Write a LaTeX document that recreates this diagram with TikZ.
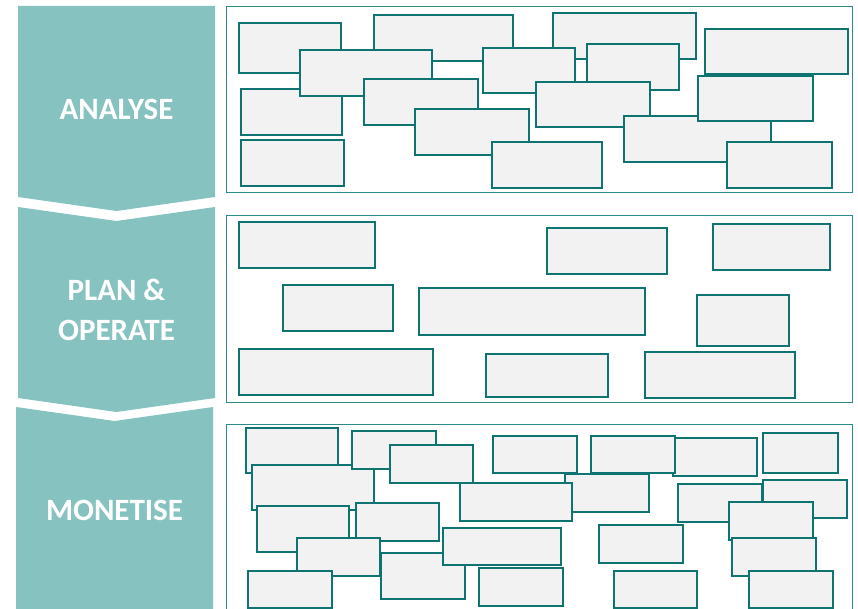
\documentclass[tikz,border=0pt]{standalone}
\usepackage{fontspec}
\setmainfont{Carlito}
\definecolor{chev}{HTML}{86C3C0}
\definecolor{boxline}{HTML}{0E7371}
\definecolor{panelline}{HTML}{2A8C89}
\definecolor{boxfill}{HTML}{F2F2F2}
\tikzset{
  bx/.style={draw=boxline, fill=boxfill, line width=2.2pt, inner sep=0pt, outer sep=0pt},
  panelbox/.style={draw=panelline, line width=1pt, inner sep=0pt, outer sep=0pt},
  chevlabel/.style={text=white, font=\bfseries\fontsize{31}{40}\selectfont, align=center, inner sep=0pt}
}
\newcommand\boxat[5]{\node[bx, minimum width={#4-#2}, minimum height={#5-#3}] (#1) at ({(#2+#4)/2},{(#3+#5)/2}) {};}
\newcommand\panelat[5]{\node[panelbox, minimum width={#4-#2}, minimum height={#5-#3}] (#1) at ({(#2+#4)/2},{(#3+#5)/2}) {};}
\begin{document}
\begin{tikzpicture}[x=1pt,y=-1pt]
\useasboundingbox (0,0) rectangle (858,609);
% chevrons
\fill[chev] (18,6) -- (215,6) -- (215,197) -- (116.5,211) -- (18,197) -- cycle;
\fill[chev] (18,207) -- (116.5,221) -- (215,207) -- (215,398) -- (116.5,412) -- (18,398) -- cycle;
\fill[chev] (16,407) -- (114.5,421) -- (213,407) -- (213,612) -- (16,612) -- cycle;
\node[chevlabel] (t1) at (116.5,109) {ANALYSE};
\node[chevlabel] (t2) at (116.5,310) {PLAN \&\\OPERATE};
\node[chevlabel] (t3) at (114.5,510) {MONETISE};
% panels
\panelat{p1}{226.5}{6.5}{852.5}{192.5}
\panelat{p2}{226.5}{215.5}{852.5}{402.5}
\panelat{p3}{226.5}{424.5}{852.5}{616}
% panel 1 boxes
\boxat{a1}{239}{23}{341}{73}
\boxat{a2}{374}{15}{513}{61}
\boxat{a3}{241}{89}{342}{135}
\boxat{a4}{300}{50}{432}{96}
\boxat{a5}{364}{79}{478}{125}
\boxat{a6}{415}{109}{529}{155}
\boxat{a7}{492}{142}{602}{188}
\boxat{a8}{553}{13}{696}{59}
\boxat{a9}{483}{48}{575}{93}
\boxat{a10}{587}{44}{679}{90}
\boxat{a11}{536}{82}{650}{127}
\boxat{a12}{624}{116}{771}{162}
\boxat{a13}{698}{76}{813}{121}
\boxat{a14}{705}{29}{848}{74}
\boxat{a15}{727}{142}{832}{188}
\boxat{a16}{241}{140}{344}{186}
% panel 2 boxes
\boxat{b1}{239}{222}{375}{268}
\boxat{b2}{283}{285}{393}{331}
\boxat{b3}{419}{288}{645}{335}
\boxat{b4}{239}{349}{433}{395}
\boxat{b5}{486}{354}{608}{397}
\boxat{b6}{547}{228}{667}{274}
\boxat{b7}{713}{224}{830}{270}
\boxat{b8}{697}{295}{789}{346}
\boxat{b9}{645}{352}{795}{398}
% panel 3 boxes
\boxat{c1}{246}{428}{338}{473}
\boxat{c2}{252}{465}{374}{510}
\boxat{c3}{352}{431}{436}{469}
\boxat{c4}{390}{445}{473}{483}
\boxat{c5}{493}{436}{577}{473}
\boxat{c7}{673}{438}{757}{476}
\boxat{c6}{591}{436}{675}{473}
\boxat{c8}{763}{433}{838}{473}
\boxat{c9}{257}{506}{349}{552}
\boxat{c10}{356}{503}{439}{541}
\boxat{c11}{297}{538}{380}{576}
\boxat{c12}{248}{571}{332}{608}
\boxat{c13}{381}{553}{465}{599}
\boxat{c14}{565}{474}{649}{512}
\boxat{c15}{460}{483}{572}{521}
\boxat{c16}{443}{528}{561}{565}
\boxat{c17}{479}{568}{563}{606}
\boxat{c18}{678}{484}{762}{522}
\boxat{c19}{763}{480}{847}{518}
\boxat{c20}{729}{502}{813}{540}
\boxat{c21}{732}{538}{816}{576}
\boxat{c22}{749}{571}{833}{608}
\boxat{c23}{599}{525}{683}{563}
\boxat{c24}{614}{571}{697}{608}
\end{tikzpicture}
\end{document}
